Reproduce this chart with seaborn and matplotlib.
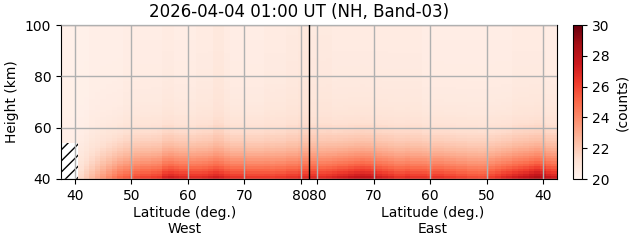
import numpy as np
import pandas as pd
import matplotlib
matplotlib.use("Agg")
import matplotlib.pyplot as plt
import matplotlib.transforms as mtransforms
import seaborn as sns

# ---- data ----
lat_bins = list(range(38, 82))          # bin centres, 1 deg wide (37.5 .. 81.5)
heights = list(range(40, 100))          # 1 km rows, 40 .. 100 km

# counts in the lowest row (40-41 km), per latitude bin, south -> north
west_bottom = [np.nan, np.nan, np.nan, 21.5, 22.0, 22.5, 23.0, 23.5, 24.0, 24.5,
               25.0, 25.3, 25.5, 25.8, 26.0, 26.0, 26.2, 26.3, 27.0, 27.2,
               27.0, 26.8, 26.8, 26.7, 26.7, 26.8, 27.0, 27.2, 27.0, 26.7,
               26.5, 26.5, 26.5, 26.3, 26.3, 26.3, 26.3, 26.2, 26.3, 26.3,
               26.5, 26.5, 26.7, 26.8]
east_bottom = [27.3, 27.5, 28.0, 28.3, 28.0, 27.7, 27.5, 27.3, 27.0, 26.8,
               26.5, 26.2, 25.8, 25.7, 25.8, 25.8, 26.0, 26.0, 26.2, 26.3,
               26.5, 26.5, 26.3, 26.5, 26.5, 26.5, 26.7, 26.5, 26.5, 26.8,
               27.0, 27.2, 27.5, 27.7, 27.8, 27.7, 27.5, 27.3, 27.2, 27.0,
               26.8, 26.7, 26.8, 26.8]
# background counts in the upper region, per latitude bin, south -> north
west_top = [20.3, 20.3, 20.3, 20.3, 20.3, 20.4, 20.4, 20.4, 20.4, 20.4,
            20.4, 20.5, 20.5, 20.5, 20.5, 20.5, 20.5, 20.5, 20.6, 20.6,
            20.5, 20.5, 20.5, 20.5, 20.6, 20.6, 20.6, 20.8, 20.8, 20.6,
            20.5, 20.5, 20.5, 20.5, 20.5, 20.5, 20.6, 20.6, 20.6, 20.6,
            20.7, 20.7, 20.8, 20.8]
east_top = [20.5, 20.5, 20.6, 20.6, 20.6, 20.6, 20.6, 20.6, 20.5, 20.5,
            20.5, 20.5, 20.5, 20.5, 20.5, 20.5, 20.5, 20.5, 20.5, 20.5,
            20.5, 20.5, 20.5, 20.5, 20.6, 20.6, 20.6, 20.6, 20.6, 20.6,
            20.6, 20.6, 20.6, 20.6, 20.6, 20.6, 20.6, 20.6, 20.6, 20.6,
            20.7, 20.7, 20.7, 20.7]
# vertical shape of the low-altitude excess (fraction of the bottom-row excess)
profile = [1.00, 0.93, 0.86, 0.79, 0.72, 0.65, 0.59, 0.53, 0.48, 0.43,
           0.39, 0.35, 0.31, 0.28, 0.25, 0.22, 0.20, 0.17, 0.15, 0.13,
           0.12, 0.10, 0.09, 0.08, 0.07, 0.06, 0.055, 0.05, 0.045, 0.04,
           0.035, 0.032, 0.03, 0.027, 0.025, 0.022, 0.02, 0.018, 0.016, 0.015,
           0.013, 0.012, 0.011, 0.01, 0.009, 0.008, 0.007, 0.006, 0.005, 0.004,
           0.003, 0.003, 0.002, 0.002, 0.001, 0.001, 0.0, 0.0, 0.0, 0.0]
# missing data: lowest latitude bins on the west side below this height
west_missing_lats = [38, 39, 40]
west_missing_top = 54
west_missing_fill = 21.0   # value of those bins above the gap (bottom-row equivalent)

west_ticks = [40, 50, 60, 70, 80]
east_ticks = [80, 70, 60, 50, 40]
y_ticks = [40, 60, 80, 100]
title = "2026-04-04 01:00 UT (NH, Band-03)"

# ---- build the grid ----
prof = np.array(profile)[:, None]
wb = np.nan_to_num(np.array(west_bottom), nan=west_missing_fill)
west = np.array(west_top)[None, :] + (wb - np.array(west_top))[None, :] * prof
east = np.array(east_top)[None, :] + (np.array(east_bottom) - np.array(east_top))[None, :] * prof
hh = np.array(heights)
for lat in west_missing_lats:
    j = lat_bins.index(lat)
    west[hh < west_missing_top, j] = np.nan
grid = np.hstack([west, east[:, ::-1]])   # east drawn from 81 (centre) to 38 (right edge)
cols = [f"W{l}" for l in lat_bins] + [f"E{l}" for l in lat_bins[::-1]]
df = pd.DataFrame(grid, index=heights, columns=cols)

# ---- figure ----
plt.rcParams["hatch.linewidth"] = 1.0
fig = plt.figure(figsize=(6.31, 2.43), dpi=100)
ax = fig.add_axes([61 / 631, 1 - 179 / 243, 496 / 631, 154 / 243])
cax = fig.add_axes([573 / 631, 1 - 179 / 243, 9 / 631, 154 / 243])

ax.patch.set_facecolor("white")
ax.patch.set_hatch("///")
ax.patch.set_edgecolor("black")

sns.heatmap(df, ax=ax, cbar_ax=cax, cmap="Reds", vmin=20, vmax=30,
            xticklabels=False, yticklabels=False)
ax.set_ylim(0, len(heights))
ax.set_xlim(0, 2 * len(lat_bins))

for s in ax.spines.values():
    s.set_visible(True)
    s.set_linewidth(0.8)
    s.set_color("black")

nW = len(lat_bins)
lo = lat_bins[0] - 0.5
xt = [l - lo for l in west_ticks] + [nW + (lat_bins[-1] + 0.5 - l) for l in east_ticks]
ax.set_xticks(xt)
ax.set_xticklabels([str(t) for t in west_ticks + east_ticks], rotation=0, fontsize=10)
ax.set_yticks([y - heights[0] for y in y_ticks])
ax.set_yticklabels([str(t) for t in y_ticks], rotation=0, fontsize=10)
ax.tick_params(axis="both", length=3.5, width=0.8, direction="out",
               bottom=True, left=True, top=False, right=False)
ax.grid(True, color="#b0b0b0", linewidth=1.0)
ax.set_axisbelow(False)
for gl in ax.get_xgridlines() + ax.get_ygridlines():
    gl.set_zorder(1.5)
ax.axvline(nW, color="black", linewidth=1.0, zorder=3)

ax.set_ylabel("Height (km)", fontsize=10)
ax.set_xlabel("")
trans = mtransforms.blended_transform_factory(ax.transData, ax.transAxes)
ax.text(nW / 2, -0.175, "Latitude (deg.)\nWest", transform=trans, ha="center", va="top",
        fontsize=10, linespacing=1.2)
ax.text(nW * 1.5, -0.175, "Latitude (deg.)\nEast", transform=trans, ha="center", va="top",
        fontsize=10, linespacing=1.2)

fig.text(299 / 631, 1 - 12 / 243, title, ha="center", va="center", fontsize=12)

cb = ax.collections[0].colorbar
cb.set_ticks([20, 22, 24, 26, 28, 30])
cb.ax.tick_params(labelsize=10, length=3.5, width=0.8)
cb.outline.set_visible(True)
cb.outline.set_linewidth(0.8)
cb.outline.set_edgecolor("black")
cb.set_label("(counts)", fontsize=10)

fig.savefig("out.png", dpi=100)
